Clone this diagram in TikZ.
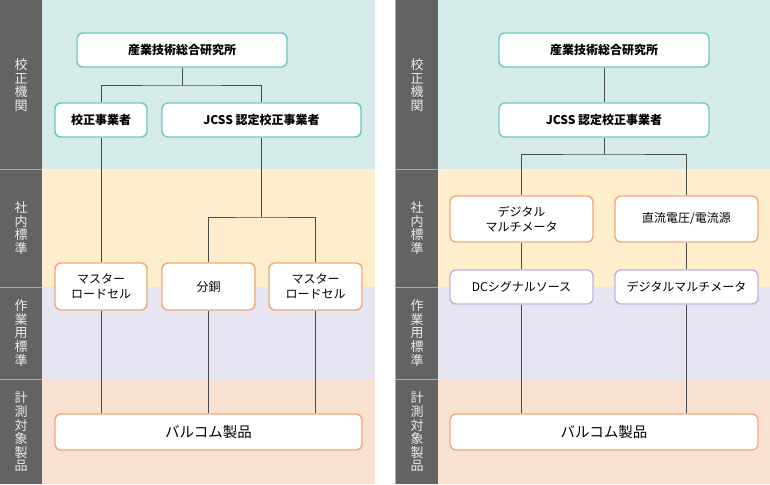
\documentclass[tikz,border=0pt]{standalone}
\usepackage{fontspec}
\setmainfont{Noto Sans CJK JP}
\definecolor{bandA}{HTML}{D4EBEA}
\definecolor{bandB}{HTML}{FEEECB}
\definecolor{bandC}{HTML}{E7E5F2}
\definecolor{bandD}{HTML}{FAE2D2}
\definecolor{side}{HTML}{636363}
\definecolor{sideline}{HTML}{A8A8A8}
\definecolor{sidetext}{HTML}{EBEBEB}
\definecolor{tealb}{HTML}{6FC7C1}
\definecolor{orangeb}{HTML}{F4A57A}
\definecolor{lavb}{HTML}{BCB3E0}
\definecolor{conn}{HTML}{4A4A4A}
\tikzset{
  box/.style={draw, fill=white, rounded corners=6pt, line width=1.4pt, align=center, inner sep=0pt,
    font=\fontsize{12}{15}\selectfont},
  tealbox/.style={box, draw=tealb, font=\fontsize{12}{15}\selectfont\bfseries},
  orangebox/.style={box, draw=orangeb},
  lavbox/.style={box, draw=lavb},
  prodbox/.style={box, draw=orangeb, font=\fontsize{14.5}{17}\selectfont},
  sidelabel/.style={text=sidetext, align=center, inner sep=0pt, font=\fontsize{13}{13.6}\selectfont},
  link/.style={draw=conn, line width=0.9pt}
}
\begin{document}
\begin{tikzpicture}[x=1pt,y=-1pt]
\useasboundingbox (0,0) rectangle (770,484);
% ---------- left panel background ----------
\fill[bandA] (42,0) rectangle (375,169);
\fill[bandB] (42,169) rectangle (375,287);
\fill[bandC] (42,287) rectangle (375,379);
\fill[bandD] (42,379) rectangle (375,484);
\fill[side] (0,0) rectangle (42,484);
\draw[sideline, line width=1pt] (0,169) -- (42,169) (0,287) -- (42,287) (0,379) -- (42,379);
\node[sidelabel] (ls1) at (21,85) {校\\正\\機\\関};
\node[sidelabel] (ls2) at (21,228) {社\\内\\標\\準};
\node[sidelabel] (ls3) at (21,333) {作\\業\\用\\標\\準};
\node[sidelabel] (ls4) at (21,432) {計\\測\\対\\象\\製\\品};
% ---------- right panel background ----------
\fill[bandA] (438,0) rectangle (770,169);
\fill[bandB] (438,169) rectangle (770,287);
\fill[bandC] (438,287) rectangle (770,379);
\fill[bandD] (438,379) rectangle (770,484);
\fill[side] (395,0) rectangle (438,484);
\draw[sideline, line width=1pt] (395.5,0) -- (395.5,484);
\draw[sideline, line width=1pt] (395,169) -- (438,169) (395,287) -- (438,287) (395,379) -- (438,379);
\node[sidelabel] (rs1) at (417,85) {校\\正\\機\\関};
\node[sidelabel] (rs2) at (417,228) {社\\内\\標\\準};
\node[sidelabel] (rs3) at (417,333) {作\\業\\用\\標\\準};
\node[sidelabel] (rs4) at (417,432) {計\\測\\対\\象\\製\\品};
% ---------- left panel nodes ----------
\node[tealbox, minimum width=210pt, minimum height=34pt] (L1) at (182,50) {産業技術総合研究所};
\node[tealbox, minimum width=92pt, minimum height=34pt] (L2) at (101,120) {校正事業者};
\node[tealbox, minimum width=199pt, minimum height=34pt] (L3) at (261.5,120) {JCSS 認定校正事業者};
\node[orangebox, minimum width=92pt, minimum height=47pt] (L4) at (101,286.5) {マスター\\ロードセル};
\node[orangebox, minimum width=93pt, minimum height=47pt] (L5) at (208.5,286.5) {分銅};
\node[orangebox, minimum width=93pt, minimum height=47pt] (L6) at (315.5,286.5) {マスター\\ロードセル};
\node[prodbox, minimum width=307pt, minimum height=36pt] (L7) at (208.5,432) {バルコム製品};
\coordinate (j1) at (182,85);
\coordinate (j2) at (261.5,217);
% ---------- left panel connectors ----------
\draw[link] (L1.south) -- (j1);
\draw[link] (L2.north) |- (j1) -| (L3.north);
\draw[link] (L2.south) -- (L4.north);
\draw[link] (L3.south) -- (j2);
\draw[link] (L5.north) |- (j2) -| (L6.north);
\draw[link] (L4.south) -- (L4.south |- L7.north);
\draw[link] (L5.south) -- (L5.south |- L7.north);
\draw[link] (L6.south) -- (L6.south |- L7.north);
% ---------- right panel nodes ----------
\node[tealbox, minimum width=210pt, minimum height=34pt] (R1) at (604,50) {産業技術総合研究所};
\node[tealbox, minimum width=210pt, minimum height=34pt] (R2) at (604,120) {JCSS 認定校正事業者};
\node[orangebox, minimum width=143pt, minimum height=46pt] (R3) at (521.5,219) {デジタル\\マルチメータ};
\node[orangebox, minimum width=143pt, minimum height=46pt] (R4) at (686.5,219) {直流電圧/電流源};
\node[lavbox, minimum width=143pt, minimum height=34pt] (R5) at (521.5,287) {DCシグナルソース};
\node[lavbox, minimum width=143pt, minimum height=34pt] (R6) at (686.5,287) {デジタルマルチメータ};
\node[prodbox, minimum width=308pt, minimum height=36pt] (R7) at (604,432) {バルコム製品};
\coordinate (j3) at (604,154);
% ---------- right panel connectors ----------
\draw[link] (R1.south) -- (R2.north);
\draw[link] (R2.south) -- (j3);
\draw[link] (R3.north) |- (j3) -| (R4.north);
\draw[link] (R3.south) -- (R5.north);
\draw[link] (R4.south) -- (R6.north);
\draw[link] (R5.south) -- (R5.south |- R7.north);
\draw[link] (R6.south) -- (R6.south |- R7.north);
\end{tikzpicture}
\end{document}
